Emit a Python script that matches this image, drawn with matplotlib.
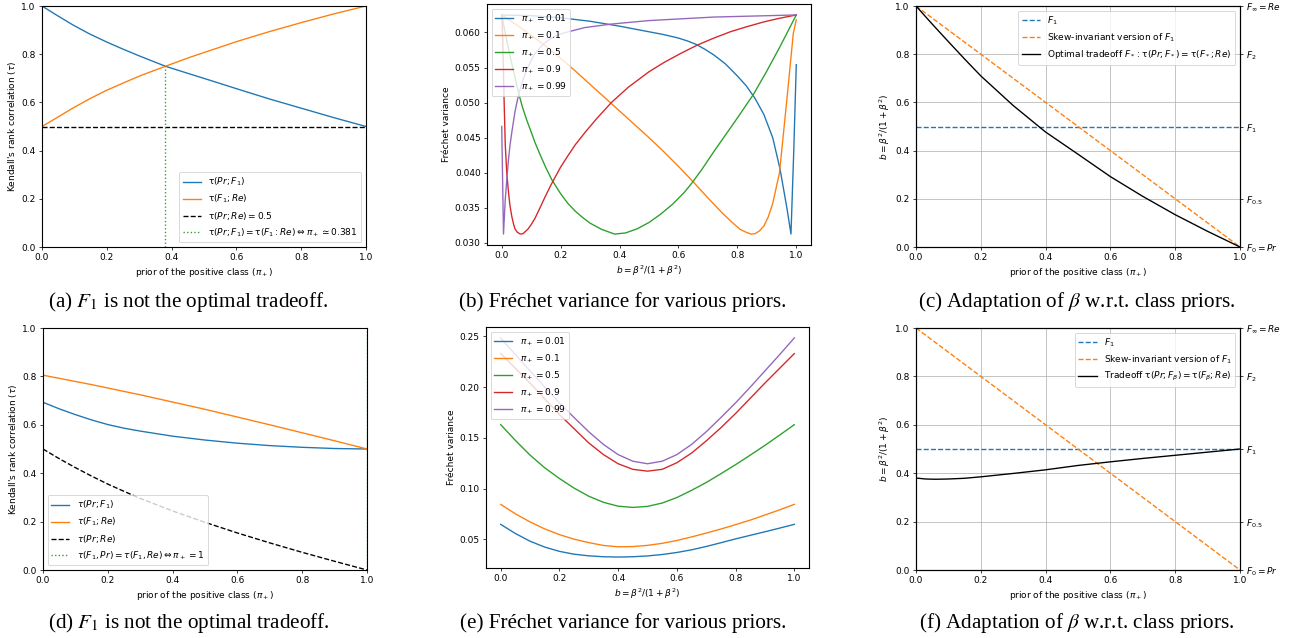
import matplotlib

matplotlib.use("Agg")
import matplotlib.pyplot as plt

# whole figure was laid out at default matplotlib size, then shrunk
SCALE = 0.653
plt.rcParams.update({
    "font.size": 10 * SCALE,
    "lines.linewidth": 1.5 * SCALE,
    "axes.linewidth": 0.8,
    "xtick.major.size": 3.5 * SCALE,
    "ytick.major.size": 3.5 * SCALE,
    "xtick.major.width": 0.8 * SCALE,
    "ytick.major.width": 0.8 * SCALE,
    "xtick.major.pad": 3.5 * SCALE,
    "ytick.major.pad": 3.5 * SCALE,
    "axes.labelpad": 4.0 * SCALE,
    "grid.linewidth": 0.8 * SCALE,
    "patch.linewidth": 1.0 * SCALE,
})

W, H = 1294, 638

# (a) Kendall tau vs prior
PI_A = [0.0, 0.044, 0.096, 0.147, 0.199, 0.25, 0.302, 0.381, 0.456, 0.518, 0.6, 0.7, 0.8, 0.9, 1.0]
TAU_PR_F1_A = [1.0, 0.963, 0.921, 0.884, 0.851, 0.821, 0.792, 0.750, 0.718, 0.692,
               0.657, 0.615, 0.576, 0.537, 0.5]
TAU_F1_RE_A = [0.5, 0.535, 0.577, 0.615, 0.650, 0.680, 0.710, 0.750, 0.787, 0.815,
               0.852, 0.893, 0.931, 0.967, 1.0]
TAU_PR_RE_A = 0.5
CROSS_PI_A = 0.381
CROSS_TAU_A = 0.75

# (d) Kendall tau vs prior, second setting
PI_D = [0.0, 0.05, 0.1, 0.15, 0.2, 0.25, 0.3, 0.4, 0.5, 0.6, 0.7, 0.8, 0.9, 1.0]
TAU_PR_F1_D = [0.693, 0.666, 0.642, 0.620, 0.601, 0.586, 0.574, 0.553, 0.537, 0.524,
               0.514, 0.507, 0.502, 0.5]
TAU_F1_RE_D = [0.805, 0.792, 0.779, 0.766, 0.752, 0.738, 0.724, 0.694, 0.664, 0.632,
               0.600, 0.567, 0.534, 0.5]
TAU_PR_RE_D = [0.5, 0.460, 0.423, 0.388, 0.355, 0.325, 0.296, 0.244, 0.197, 0.153,
               0.112, 0.073, 0.036, 0.0]
CROSS_PI_D = 1.0

# (b) Frechet variance, one curve per prior
PRIOR_LABELS = ["0.01", "0.1", "0.5", "0.9", "0.99"]
B_01 = [0.0, 0.1, 0.2, 0.3, 0.4, 0.5, 0.55, 0.6, 0.63, 0.66, 0.69, 0.72, 0.76, 0.8, 0.83,
        0.86, 0.89, 0.92, 0.945, 0.968, 0.982, 0.991, 1.0]
V_01 = [0.0625, 0.0624, 0.0621, 0.0616, 0.0609, 0.0601, 0.0597, 0.0592, 0.0588, 0.0583,
        0.0576, 0.0568, 0.0555, 0.0538, 0.0524, 0.0506, 0.0483, 0.0450, 0.0405, 0.0350,
        0.03125, 0.0425, 0.0554]
B_10 = [0.0, 0.05, 0.1, 0.15, 0.2, 0.25, 0.3, 0.35, 0.4, 0.45, 0.5, 0.55, 0.6, 0.65,
        0.7, 0.75, 0.78, 0.81, 0.83, 0.846, 0.86, 0.875, 0.89, 0.905, 0.92, 0.943,
        0.968, 0.99, 1.0]
V_10 = [0.0625, 0.0611, 0.0596, 0.0580, 0.0563, 0.0545, 0.0526, 0.0507, 0.0488, 0.0469,
        0.0450, 0.0430, 0.0409, 0.0387, 0.0364, 0.0342, 0.0330, 0.0319, 0.0315, 0.03125,
        0.0313, 0.0317, 0.0324, 0.0337, 0.0356, 0.0400, 0.0504, 0.0599, 0.0618]
B_50 = [0.0, 0.015, 0.03, 0.045, 0.057, 0.07, 0.085, 0.1, 0.113, 0.13, 0.15, 0.17, 0.2,
        0.225, 0.25, 0.275, 0.3, 0.34, 0.383, 0.42, 0.46, 0.5, 0.54, 0.58, 0.62, 0.647,
        0.68, 0.72, 0.76, 0.8, 0.855, 0.9, 0.945, 1.0]
V_50 = [0.0625, 0.0593, 0.0563, 0.0536, 0.0514, 0.0494, 0.0475, 0.0458, 0.0443, 0.0426,
        0.0407, 0.0390, 0.0370, 0.0356, 0.0345, 0.0336, 0.0328, 0.0319, 0.03125, 0.0314,
        0.0320, 0.0329, 0.0341, 0.0355, 0.0372, 0.0386, 0.0405, 0.0430, 0.0454, 0.0478,
        0.0512, 0.0545, 0.0580, 0.0625]
B_90 = [0.0, 0.003, 0.008, 0.012, 0.017, 0.023, 0.028, 0.034, 0.04, 0.045, 0.053, 0.063,
        0.072, 0.08, 0.09, 0.1, 0.113, 0.13, 0.15, 0.169, 0.2, 0.226, 0.25, 0.282, 0.32,
        0.372, 0.43, 0.5, 0.55, 0.607, 0.664, 0.72, 0.776, 0.83, 0.889, 0.94, 1.0]
V_90 = [0.0625, 0.0599, 0.0504, 0.0440, 0.0400, 0.0372, 0.0353, 0.0338, 0.0327, 0.0320,
        0.0315, 0.03125, 0.0313, 0.0316, 0.0320, 0.0326, 0.0335, 0.0350, 0.0368, 0.0384,
        0.0408, 0.0425, 0.0440, 0.0457, 0.0476, 0.0500, 0.0522, 0.0544, 0.0557, 0.0570,
        0.0582, 0.0592, 0.0601, 0.0608, 0.0615, 0.0620, 0.0625]
B_99 = [0.0, 0.006, 0.012, 0.018, 0.023, 0.028, 0.034, 0.045, 0.057, 0.07, 0.085, 0.1,
        0.113, 0.14, 0.169, 0.2, 0.226, 0.282, 0.372, 0.5, 0.72, 1.0]
V_99 = [0.0466, 0.03125, 0.0362, 0.0394, 0.0419, 0.0439, 0.0457, 0.0487, 0.0511, 0.0530,
        0.0547, 0.0560, 0.0570, 0.0583, 0.0592, 0.0598, 0.0601, 0.0607, 0.0612, 0.0617,
        0.0622, 0.0625]

# (e) Frechet variance, second setting
B_E = [0.0, 0.05, 0.1, 0.15, 0.2, 0.25, 0.3, 0.35, 0.4, 0.45, 0.5,
       0.55, 0.6, 0.65, 0.7, 0.75, 0.8, 0.85, 0.9, 0.95, 1.0]
VE_01 = [0.0648, 0.0558, 0.0482, 0.0424, 0.0382, 0.0354, 0.0338, 0.0329, 0.0326, 0.0329,
         0.0337, 0.0351, 0.0371, 0.0397, 0.0430, 0.0467, 0.0505, 0.0540, 0.0575, 0.0611, 0.0648]
VE_10 = [0.0845, 0.0752, 0.0672, 0.0603, 0.0547, 0.0502, 0.0468, 0.0440, 0.0427, 0.0429,
         0.0441, 0.0461, 0.0489, 0.0524, 0.0562, 0.0602, 0.0645, 0.0690, 0.0740, 0.0791, 0.0845]
VE_50 = [0.163, 0.1475, 0.133, 0.1205, 0.110, 0.1005, 0.0925, 0.0865, 0.0827, 0.0815,
         0.0825, 0.0858, 0.0912, 0.0983, 0.1060, 0.1147, 0.1236, 0.1330, 0.1426, 0.1527, 0.163]
VE_90 = [0.233, 0.2185, 0.204, 0.1885, 0.173, 0.159, 0.145, 0.1335, 0.1245, 0.119,
         0.1172, 0.119, 0.1255, 0.135, 0.147, 0.160, 0.174, 0.189, 0.204, 0.2185, 0.233]
VE_99 = [0.2484, 0.232, 0.216, 0.200, 0.1845, 0.170, 0.156, 0.1435, 0.1335, 0.127,
         0.1245, 0.127, 0.1335, 0.1435, 0.156, 0.170, 0.1845, 0.200, 0.216, 0.232, 0.2484]

# (c), (f) best b as a function of the prior
PI_C = [0.0, 0.05, 0.1, 0.15, 0.2, 0.3, 0.4, 0.5, 0.6, 0.7, 0.8, 0.9, 1.0]
B_OPT_C = [1.0, 0.925, 0.852, 0.780, 0.71, 0.587, 0.477, 0.385, 0.292, 0.21, 0.134, 0.065, 0.0]
PI_F = [0.0, 0.03, 0.06, 0.1, 0.15, 0.2, 0.3, 0.4, 0.5, 0.6, 0.7, 0.8, 0.9, 1.0]
B_OPT_F = [0.38, 0.376, 0.375, 0.376, 0.379, 0.385, 0.399, 0.414, 0.432, 0.447,
           0.461, 0.474, 0.487, 0.5]
SKEW_PI = [0.0, 1.0]
SKEW_B = [1.0, 0.0]
B_F1 = 0.5
FBETA_TICKS = [0.0, 0.2, 0.5, 0.8, 1.0]
FBETA_LABELS = [r"$F_0 = Pr$", r"$F_{0.5}$", r"$F_1$", r"$F_2$", r"$F_\infty = Re$"]

CAPTIONS = [
    r"(a) $F_1$ is not the optimal tradeoff.",
    r"(b) Fréchet variance for various priors.",
    r"(c) Adaptation of $\beta$ w.r.t. class priors.",
    r"(d) $F_1$ is not the optimal tradeoff.",
    r"(e) Fréchet variance for various priors.",
    r"(f) Adaptation of $\beta$ w.r.t. class priors.",
]

PRIOR_XLABEL = r"prior of the positive class ($\pi_+$)"
B_LABEL = r"$b = \beta^2/(1+\beta^2)$"
TAU_YLABEL = r"Kendall's rank correlation ($\tau$)"


def add_axes(fig, left, top, right, bottom):
    return fig.add_axes([left / W, 1 - bottom / H, (right - left) / W, (bottom - top) / H])


def draw_tau_a(ax):
    ax.plot(PI_A, TAU_PR_F1_A, color="C0", label=r"$\mathrm{\tau}(Pr; F_1)$")
    ax.plot(PI_A, TAU_F1_RE_A, color="C1", label=r"$\mathrm{\tau}(F_1; Re)$")
    ax.axhline(TAU_PR_RE_A, color="black", ls="--", label=r"$\mathrm{\tau}(Pr; Re) = 0.5$")
    ax.plot([CROSS_PI_A, CROSS_PI_A], [0, CROSS_TAU_A], color="C2", ls=":",
            label=r"$\mathrm{\tau}(Pr; F_1) = \mathrm{\tau}(F_1: Re) \Leftrightarrow \pi_+ \simeq 0.381$")
    ax.set_xlim(0, 1)
    ax.set_ylim(0, 1)
    ax.set_xlabel(PRIOR_XLABEL)
    ax.set_ylabel(TAU_YLABEL)
    ax.legend(loc="lower right")


def draw_tau_d(ax):
    ax.plot(PI_D, TAU_PR_F1_D, color="C0", label=r"$\tau(Pr; F_1)$")
    ax.plot(PI_D, TAU_F1_RE_D, color="C1", label=r"$\tau(F_1; Re)$")
    ax.plot(PI_D, TAU_PR_RE_D, color="black", ls="--", label=r"$\tau(Pr; Re)$")
    ax.axvline(CROSS_PI_D, color="C2", ls=":",
               label=r"$\tau(F_1, Pr) = \tau(F_1, Re) \Leftrightarrow \pi_+ = 1$")
    ax.set_xlim(0, 1)
    ax.set_ylim(0, 1)
    ax.set_xlabel(PRIOR_XLABEL)
    ax.set_ylabel(TAU_YLABEL)
    ax.legend(loc="lower left")


def draw_variance(ax, curves):
    for (b, v), prior in zip(curves, PRIOR_LABELS):
        ax.plot(b, v, label=rf"$\pi_+ = {prior}$")
    ax.set_xlabel(B_LABEL)
    ax.set_ylabel("Fréchet variance")
    ax.legend(loc="upper left")


def draw_beta(ax, pi, b_opt, opt_label):
    ax.axhline(B_F1, color="C0", ls="--", label=r"$F_1$")
    ax.plot(SKEW_PI, SKEW_B, color="C1", ls="--", label=r"Skew-invariant version of $F_1$")
    ax.plot(pi, b_opt, color="black", label=opt_label)
    ax.set_xlim(0, 1)
    ax.set_ylim(0, 1)
    ax.grid(True)
    ax.set_xlabel(PRIOR_XLABEL)
    ax.set_ylabel(B_LABEL)
    ax.legend(loc="upper right")
    right = ax.twinx()
    right.set_ylim(0, 1)
    right.set_yticks(FBETA_TICKS)
    right.set_yticklabels(FBETA_LABELS)


def main():
    fig = plt.figure(figsize=(W / 100, H / 100), dpi=100)

    draw_tau_a(add_axes(fig, 42, 6, 366, 247))
    draw_variance(add_axes(fig, 487, 4, 811, 245),
                  [(B_01, V_01), (B_10, V_10), (B_50, V_50), (B_90, V_90), (B_99, V_99)])
    draw_beta(add_axes(fig, 916, 6, 1240, 247), PI_C, B_OPT_C,
              r"Optimal tradeoff $F_* : \mathrm{\tau}(Pr; F_*) = \mathrm{\tau}(F_*; Re)$")

    draw_tau_d(add_axes(fig, 43, 328, 367, 570))
    draw_variance(add_axes(fig, 486, 327, 809, 568),
                  [(B_E, VE_01), (B_E, VE_10), (B_E, VE_50), (B_E, VE_90), (B_E, VE_99)])
    draw_beta(add_axes(fig, 916, 328, 1240, 570), PI_F, B_OPT_F,
              r"Tradeoff $\mathrm{\tau}(Pr; F_\beta) = \mathrm{\tau}(F_\beta; Re)$")

    caption_pos = [(188, 302), (623, 302), (1077, 302), (189, 623), (623, 623), (1077, 623)]
    for (x, y), text in zip(caption_pos, CAPTIONS):
        fig.text(x / W, 1 - y / H, text, ha="center", va="center", fontsize=15.2,
                 family="Liberation Serif", math_fontfamily="stix")

    fig.savefig("out.png", dpi=100)


if __name__ == "__main__":
    main()
